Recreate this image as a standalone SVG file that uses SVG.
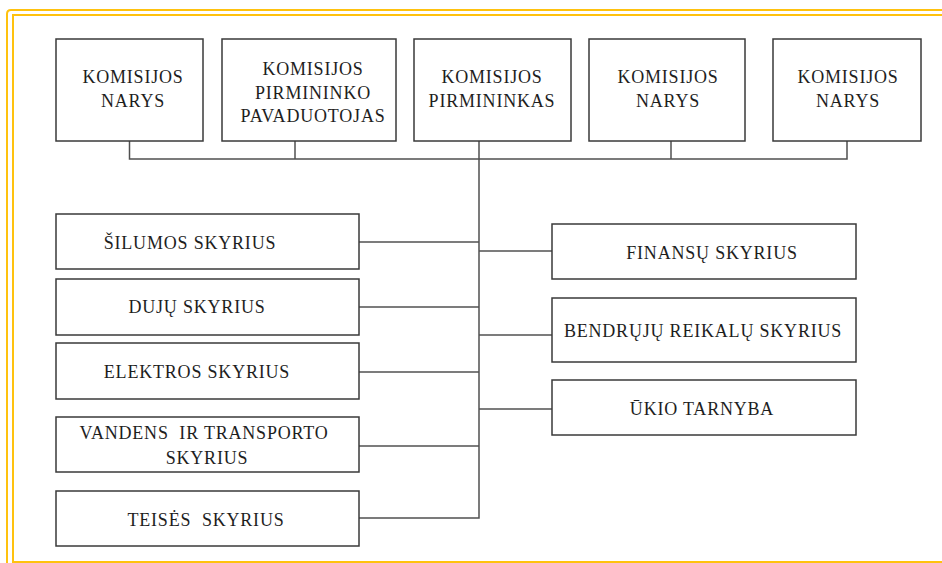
<svg xmlns="http://www.w3.org/2000/svg" width="942" height="563" viewBox="0 0 942 563">
<rect width="942" height="563" fill="#fff"/>
<g id="frame" fill="none" stroke="#ffc20e" stroke-width="2">
<path d="M7,563 V14 Q7,10 11,10 H942"/>
<path d="M13,563 V15 H942"/>
<path d="M13,562 H942"/>
</g>
<g id="connectors" fill="none" stroke="#505050" stroke-width="1.5">
<path d="M129.5,141 V159 H847 V141"/>
<path d="M295,141 V159"/>
<path d="M671,141 V159"/>
<path d="M479,141 V518 H359"/>
<path d="M359,242 H479"/>
<path d="M359,307 H479"/>
<path d="M359,372 H479"/>
<path d="M359,446 H479"/>
<path d="M479,251 H552"/>
<path d="M479,335 H552"/>
<path d="M479,409 H552"/>
</g>
<g id="nodes" font-family="Liberation Serif, Times New Roman, serif" font-size="18" letter-spacing="0.8" text-anchor="middle" fill="#1e1e1e">
<g id="narys1"><rect x="56" y="39" width="147" height="102" fill="#fff" stroke="#3a3a3a" stroke-width="1.5"/><text x="133" y="83">KOMISIJOS</text><text x="133" y="107">NARYS</text></g>
<g id="pavaduotojas"><rect x="222" y="39" width="174" height="102" fill="#fff" stroke="#3a3a3a" stroke-width="1.5"/><text x="313" y="75">KOMISIJOS</text><text x="313" y="98.5">PIRMININKO</text><text x="313" y="122">PAVADUOTOJAS</text></g>
<g id="pirmininkas"><rect x="414" y="39" width="157" height="102" fill="#fff" stroke="#3a3a3a" stroke-width="1.5"/><text x="492" y="83">KOMISIJOS</text><text x="492" y="107">PIRMININKAS</text></g>
<g id="narys2"><rect x="589" y="39" width="156" height="102" fill="#fff" stroke="#3a3a3a" stroke-width="1.5"/><text x="668" y="83">KOMISIJOS</text><text x="668" y="107">NARYS</text></g>
<g id="narys3"><rect x="773" y="39" width="148" height="102" fill="#fff" stroke="#3a3a3a" stroke-width="1.5"/><text x="848" y="83">KOMISIJOS</text><text x="848" y="107">NARYS</text></g>
<g id="silumos"><rect x="56" y="214" width="303" height="55" fill="#fff" stroke="#3a3a3a" stroke-width="1.5"/><text x="190" y="249">ŠILUMOS SKYRIUS</text></g>
<g id="duju"><rect x="56" y="279" width="303" height="56" fill="#fff" stroke="#3a3a3a" stroke-width="1.5"/><text x="197" y="313">DUJŲ SKYRIUS</text></g>
<g id="elektros"><rect x="56" y="343" width="303" height="56" fill="#fff" stroke="#3a3a3a" stroke-width="1.5"/><text x="197" y="378">ELEKTROS SKYRIUS</text></g>
<g id="vandens"><rect x="56" y="417" width="303" height="55" fill="#fff" stroke="#3a3a3a" stroke-width="1.5"/><text x="204" y="439" xml:space="preserve">VANDENS  IR TRANSPORTO</text><text x="207" y="464">SKYRIUS</text></g>
<g id="teises"><rect x="56" y="491" width="303" height="55" fill="#fff" stroke="#3a3a3a" stroke-width="1.5"/><text x="206" y="526" xml:space="preserve">TEISĖS  SKYRIUS</text></g>
<g id="finansu"><rect x="552" y="224" width="304" height="55" fill="#fff" stroke="#3a3a3a" stroke-width="1.5"/><text x="712" y="259">FINANSŲ SKYRIUS</text></g>
<g id="bendruju"><rect x="552" y="298" width="304" height="64" fill="#fff" stroke="#3a3a3a" stroke-width="1.5"/><text x="703" y="337">BENDRŲJŲ REIKALŲ SKYRIUS</text></g>
<g id="ukio"><rect x="552" y="380" width="304" height="55" fill="#fff" stroke="#3a3a3a" stroke-width="1.5"/><text x="702" y="415">ŪKIO TARNYBA</text></g>
</g>
</svg>
